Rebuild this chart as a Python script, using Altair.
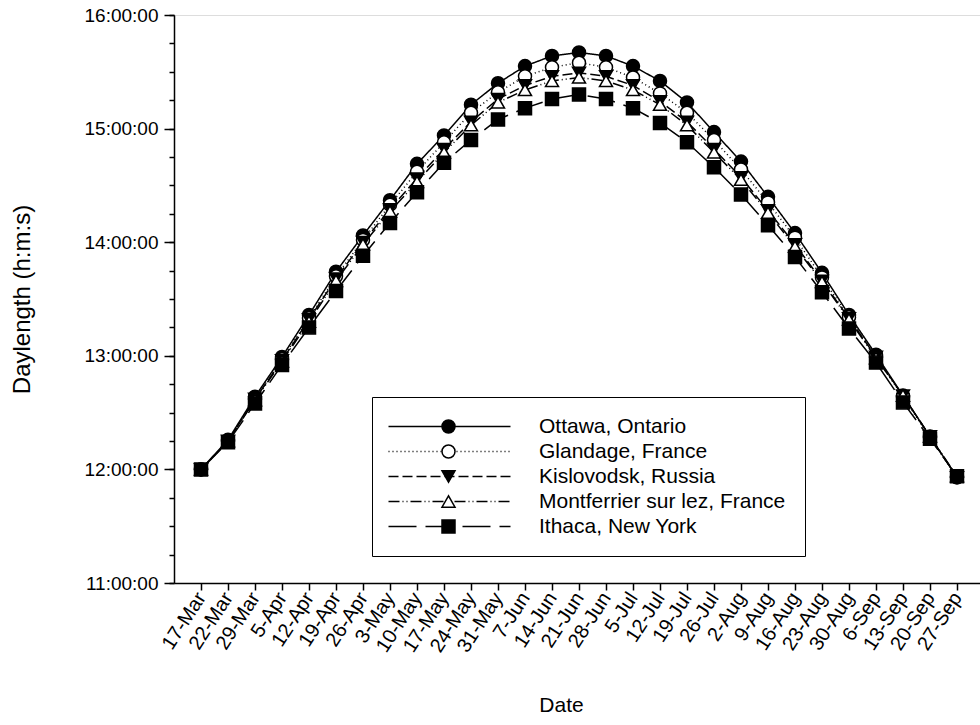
import altair as alt
import pandas as pd

dates = ["17-Mar", "22-Mar", "29-Mar", "5-Apr", "12-Apr", "19-Apr", "26-Apr", "3-May",
         "10-May", "17-May", "24-May", "31-May", "7-Jun", "14-Jun", "21-Jun", "28-Jun",
         "5-Jul", "12-Jul", "19-Jul", "26-Jul", "2-Aug", "9-Aug", "16-Aug", "23-Aug",
         "30-Aug", "6-Sep", "13-Sep", "20-Sep", "27-Sep"]

series = ["Ottawa, Ontario", "Glandage, France", "Kislovodsk, Russia",
          "Montferrier sur lez, France", "Ithaca, New York"]

# daylength in hours
ottawa = [12.00, 12.26, 12.64, 12.99, 13.36, 13.74, 14.06, 14.37, 14.69, 14.94, 15.21, 15.40,
          15.55, 15.64, 15.67, 15.64, 15.55, 15.42, 15.23, 14.97, 14.71, 14.40, 14.08, 13.73,
          13.36, 13.01, 12.65, 12.29, 11.93]
glandage = [12.00, 12.25, 12.62, 12.97, 13.33, 13.70, 14.02, 14.33, 14.62, 14.88, 15.14, 15.32,
            15.46, 15.54, 15.58, 15.54, 15.45, 15.31, 15.14, 14.90, 14.64, 14.35, 14.04, 13.69,
            13.34, 12.99, 12.64, 12.28, 11.93]
kislovodsk = [12.00, 12.25, 12.62, 12.96, 13.32, 13.68, 14.00, 14.29, 14.56, 14.82, 15.06, 15.26,
              15.38, 15.46, 15.49, 15.46, 15.38, 15.24, 15.06, 14.82, 14.57, 14.28, 13.98, 13.66,
              13.33, 12.99, 12.65, 12.29, 11.93]
montferrier = [12.00, 12.25, 12.61, 12.95, 13.30, 13.66, 13.98, 14.27, 14.53, 14.79, 15.03, 15.23,
               15.34, 15.42, 15.45, 15.42, 15.34, 15.21, 15.03, 14.79, 14.55, 14.26, 13.96, 13.65,
               13.32, 12.98, 12.65, 12.29, 11.94]
ithaca = [12.00, 12.24, 12.58, 12.92, 13.25, 13.57, 13.88, 14.17, 14.44, 14.70, 14.90, 15.08,
          15.18, 15.26, 15.30, 15.26, 15.18, 15.05, 14.88, 14.66, 14.42, 14.15, 13.87, 13.56,
          13.24, 12.94, 12.59, 12.27, 11.94]

major_ticks = [11, 12, 13, 14, 15, 16]
minor_ticks = [11, 11.25, 11.5, 11.75, 12, 12.25, 12.5, 12.75, 13, 13.25, 13.5, 13.75,
               14, 14.25, 14.5, 14.75, 15, 15.25, 15.5, 15.75, 16]

dashes = [[1, 0], [1, 3], [10, 4], [11, 3, 1, 3, 1, 3], [28, 9]]
shapes = ["circle", "circle", "triangle-down", "triangle-up", "square"]
fills = ["black", "white", "black", "white", "black"]
strokes = ["black", "black", "black", "black", "black"]

rows = []
for name, vals in zip(series, [ottawa, glandage, kislovodsk, montferrier, ithaca]):
    for d, v in zip(dates, vals):
        rows.append({"date": d, "hours": v, "series": name, "marker": name})
df = pd.DataFrame(rows)

FONT = "Liberation Sans"

x_axis = alt.Axis(labelAngle=303, labelFontSize=20, labelFont=FONT, labelColor="black",
                  labelPadding=4, tickSize=7, tickWidth=1.5, tickColor="black",
                  domainColor="black", domainWidth=1.5, grid=False,
                  title="Date", titleFont=FONT, titleFontSize=21, titleFontWeight="normal",
                  titleColor="black", titleX=387, titleY=122, titleAlign="center",
                  titleBaseline="middle")
x_enc = alt.X("date:N", sort=dates,
              scale=alt.Scale(type="point", padding=0.926, align=0.54),
              axis=x_axis)

y_scale = alt.Scale(domain=[11, 16], nice=False, zero=False)
y_major = alt.Axis(orient="left", values=major_ticks,
                   labelExpr="format(datum.value, 'd') + ':00:00'",
                   labelFontSize=19, labelFont=FONT, labelColor="black", labelPadding=6,
                   tickSize=10, tickWidth=1.5, tickColor="black",
                   domainColor="black", domainWidth=1.5, grid=False,
                   title="Daylength (h:m:s)", titleFont=FONT, titleFontSize=24,
                   titleFontWeight="normal", titleColor="black", titleX=-152, titleY=284,
                   titleAngle=270, titleAlign="center", titleBaseline="middle")
y_minor = alt.Axis(orient="left", values=minor_ticks, labels=False, tickSize=5,
                   tickWidth=1.5, tickColor="black", domain=False, grid=False, title=None)

leg_lines = alt.Legend(orient="none", legendX=198, legendY=382, title=None,
                       symbolType="M-2,0H16.77", symbolSize=169, symbolStrokeWidth=1.5,
                       symbolStrokeColor="black", labelFontSize=21, labelFont=FONT,
                       labelColor="black", labelOffset=127, labelLimit=400, rowPadding=3,
                       padding=19, strokeColor="black")
leg_marks = alt.Legend(orient="none", legendX=245, legendY=382, title=None,
                       symbolSize=169, symbolStrokeWidth=1.5,
                       labelFontSize=21, labelFont=FONT, labelExpr="''", labelOffset=0,
                       labelLimit=400, rowPadding=3, padding=19)

lines = alt.Chart(df).mark_line(color="black", strokeWidth=1.5).encode(
    x=x_enc,
    y=alt.Y("hours:Q", scale=y_scale, axis=y_major),
    strokeDash=alt.StrokeDash("series:N", sort=series, scale=alt.Scale(range=dashes),
                              legend=leg_lines),
)

points = alt.Chart(df).mark_point(size=169, filled=True, strokeWidth=1.5,
                                  opacity=1).encode(
    x=x_enc,
    y=alt.Y("hours:Q", scale=y_scale, axis=y_minor),
    shape=alt.Shape("marker:N", scale=alt.Scale(domain=series, range=shapes), legend=leg_marks),
    fill=alt.Fill("marker:N", scale=alt.Scale(domain=series, range=fills), legend=leg_marks),
    stroke=alt.Stroke("marker:N", scale=alt.Scale(domain=series, range=strokes),
                      legend=leg_marks),
)

chart = alt.layer(lines, points).resolve_scale(y="shared").resolve_axis(
    y="independent"
).properties(
    width=806, height=568,
    padding={"left": 174, "top": 15, "right": 0, "bottom": 142},
    autosize=alt.AutoSizeParams(type="none"),
).configure_view(stroke=None).configure(font=FONT)

chart.save("out.html", embed_options={"renderer": "svg", "actions": False})
